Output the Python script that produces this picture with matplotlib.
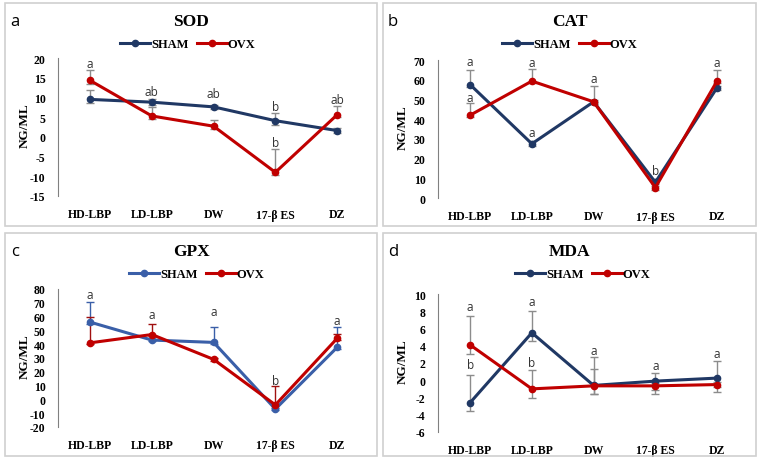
import matplotlib
matplotlib.use("Agg")
import matplotlib.pyplot as plt
from matplotlib.patches import Rectangle
from matplotlib.lines import Line2D

categories = ["HD-LBP", "LD-LBP", "DW", "17-β ES", "DZ"]
series_names = ["SHAM", "OVX"]

# SOD
sod_sham = [9.5, 8.8, 7.6, 4.1, 1.6]
sod_sham_lo = [1.0, 0.8, 0.6, 1.0, 0.6]
sod_sham_hi = [2.5, 0.8, 0.6, 2.0, 0.6]
sod_ovx = [14.3, 5.3, 2.7, -9.0, 5.6]
sod_ovx_lo = [1.0, 0.8, 0.8, 0.8, 0.6]
sod_ovx_hi = [2.7, 2.2, 1.6, 6.0, 2.2]
sod_letters = [(0, 18.6, "a"), (1, 11.6, "ab"), (2, 11.1, "ab"), (3, 7.8, "b"),
               (3, -1.5, "b"), (4, 9.6, "ab")]

# CAT
cat_sham = [57.5, 27.5, 48.8, 8.0, 56.0]
cat_sham_lo = [1.0, 1.0, 1.0, 1.0, 1.0]
cat_sham_hi = [7.5, 1.5, 8.2, 1.5, 1.0]
cat_ovx = [42.0, 59.3, 48.8, 5.3, 59.4]
cat_ovx_lo = [1.0, 1.0, 1.0, 1.0, 1.0]
cat_ovx_hi = [6.0, 6.0, 1.0, 1.0, 5.6]
cat_letters = [(0, 69, "a"), (0, 51, "a"), (1, 68.5, "a"), (1, 33, "a"),
               (2, 60.5, "a"), (3, 14, "b"), (4, 68.5, "a")]

# GPX
gpx_sham = [56.0, 43.0, 41.3, -7.0, 37.7]
gpx_sham_lo = [1.0, 1.0, 1.0, 1.0, 1.0]
gpx_sham_hi = [14.3, 1.0, 11.5, 1.0, 14.5]
gpx_ovx = [41.0, 47.0, 29.0, -4.0, 44.2]
gpx_ovx_lo = [1.0, 1.0, 1.0, 1.0, 1.0]
gpx_ovx_hi = [18.4, 8.0, 1.0, 13.4, 3.0]
gpx_letters = [(0, 76, "a"), (1, 61.5, "a"), (2, 64, "a"), (3, 13.5, "b"), (4, 57, "a")]

# MDA
mda_sham = [-2.6, 5.5, -0.6, -0.1, 0.25]
mda_sham_lo = [1.0, 1.0, 1.0, 1.0, 1.0]
mda_sham_hi = [3.2, 2.5, 3.3, 0.9, 2.0]
mda_ovx = [4.1, -1.0, -0.65, -0.65, -0.5]
mda_ovx_lo = [1.0, 1.0, 1.0, 1.0, 0.9]
mda_ovx_hi = [3.35, 2.2, 1.9, 0.3, 0.3]
mda_letters = [(0, 8.5, "a"), (0, 1.85, "b"), (1, 9.1, "a"), (1, 2.05, "b"),
               (2, 3.5, "a"), (3, 1.7, "a"), (4, 3.1, "a")]

W, H = 760, 460
fig = plt.figure(figsize=(7.6, 4.6), dpi=100)
fig.patch.set_facecolor("white")

SERIF = "Liberation Serif"
SANS = "Open Sans"
RED = "#C00000"
NAVY = "#203864"
BLUE_C = "#3A5FA8"


def px_axes(x0, y_top, x1, y_bot):
    return fig.add_axes([x0 / W, 1 - y_bot / H, (x1 - x0) / W, (y_bot - y_top) / H])


def panel(box, ax_box, title, letter, ylim, yticks, sham, sham_lo, sham_hi,
          ovx, ovx_lo, ovx_hi, letters, sham_color, err_colors, legend_x):
    bx0, by0, bx1, by1 = box
    fig.patches.append(Rectangle((bx0 / W, 1 - by1 / H), (bx1 - bx0) / W, (by1 - by0) / H,
                                 transform=fig.transFigure, fill=False,
                                 edgecolor="#D0D0D0", linewidth=1.2))
    ax = px_axes(*ax_box)
    x = list(range(len(categories)))
    for vals, lo, hi, col, ecol, z in [(sham, sham_lo, sham_hi, sham_color, err_colors[0], 3),
                                       (ovx, ovx_lo, ovx_hi, RED, err_colors[1], 4)]:
        ax.errorbar(x, vals, yerr=[lo, hi], fmt="none", ecolor=ecol, elinewidth=1.0,
                    capsize=3, capthick=1.0, zorder=2)
        ax.plot(x, vals, color=col, lw=2.2, marker="o", ms=4.5, zorder=z)
    ax.set_xlim(-0.52, 4.5)
    ax.set_ylim(*ylim)
    ax.set_yticks(yticks)
    ax.set_yticklabels([str(t) for t in yticks], fontfamily=SERIF, fontweight="bold",
                       fontsize=8.5)
    ax.set_xticks(x)
    ax.set_xticklabels(categories, fontfamily=SERIF, fontweight="bold", fontsize=8.5)
    ax.tick_params(axis="both", length=0)
    ax.tick_params(axis="y", pad=9)
    ax.tick_params(axis="x", pad=9)
    for s in ["top", "right", "bottom"]:
        ax.spines[s].set_visible(False)
    ax.spines["left"].set_color("#808080")
    ax.spines["left"].set_linewidth(0.8)
    ax.set_facecolor("none")
    for xi, yi, txt in letters:
        ax.text(xi, yi, txt, ha="center", va="center", fontsize=8.5,
                fontfamily=SANS, color="#333333", zorder=5)
    ax.set_ylabel("NG/ML", fontfamily=SERIF, fontweight="bold", fontsize=9.5)
    ax0, ay0, ax1, ay1 = ax_box
    ax.yaxis.set_label_coords((bx0 + 26 - ax0) / (ax1 - ax0), 0.52)
    # title, letter
    cx = (bx0 + bx1) / 2
    fig.text(cx / W, 1 - (by0 + 18) / H, title, ha="center", va="center",
             fontfamily=SERIF, fontweight="bold", fontsize=12.5)
    fig.text((bx0 + 10) / W, 1 - (by0 + 18) / H, letter, ha="center", va="center",
             fontfamily=SANS, fontsize=12)
    handles = [Line2D([], [], color=sham_color, lw=2.2, marker="o", ms=4.5),
               Line2D([], [], color=RED, lw=2.2, marker="o", ms=4.5)]
    fig.legend(handles, series_names, loc="center", bbox_to_anchor=(legend_x / W, 1 - (by0 + 41) / H),
               ncol=2, frameon=False, handlelength=2.4, handletextpad=0.1, columnspacing=0.6,
               prop={"family": SERIF, "weight": "bold", "size": 9}, borderaxespad=0)
    return ax


GRAY = "#8C8C8C"
panel((5, 4, 377, 227), (58, 59, 368, 197), "SOD", "a", (-15, 20), list(range(-15, 21, 5)),
      sod_sham, sod_sham_lo, sod_sham_hi, sod_ovx, sod_ovx_lo, sod_ovx_hi, sod_letters,
      NAVY, (GRAY, GRAY), 188)
panel((383, 4, 756, 227), (438, 61, 748, 199), "CAT", "b", (0, 70), list(range(0, 71, 10)),
      cat_sham, cat_sham_lo, cat_sham_hi, cat_ovx, cat_ovx_lo, cat_ovx_hi, cat_letters,
      NAVY, (GRAY, GRAY), 570)
panel((5, 234, 377, 457), (58, 290, 368, 428), "GPX", "c", (-20, 80), list(range(-20, 81, 10)),
      gpx_sham, gpx_sham_lo, gpx_sham_hi, gpx_ovx, gpx_ovx_lo, gpx_ovx_hi, gpx_letters,
      BLUE_C, (BLUE_C, "#A01010"), 197)
panel((383, 234, 756, 457), (438, 295, 748, 433), "MDA", "d", (-6, 10), list(range(-6, 11, 2)),
      mda_sham, mda_sham_lo, mda_sham_hi, mda_ovx, mda_ovx_lo, mda_ovx_hi, mda_letters,
      NAVY, (GRAY, GRAY), 583)

fig.savefig("out.png", dpi=100, facecolor="white")
